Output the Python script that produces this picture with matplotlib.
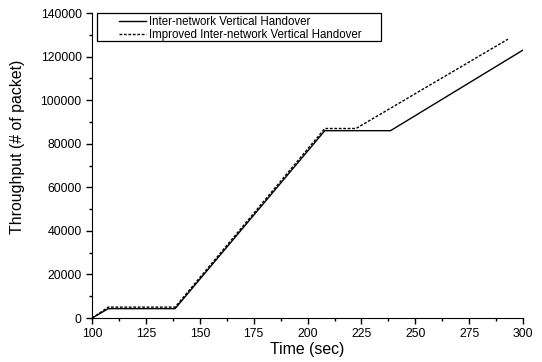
import numpy as np
import matplotlib.pyplot as plt
from matplotlib.ticker import MultipleLocator
from matplotlib.patches import Rectangle

plt.rcParams['font.family'] = ['Liberation Sans', 'DejaVu Sans']

# --- Donnees ---
t_base = [100, 107.5, 138.5, 208, 238.5, 300]
thr_base = [0, 4300, 4300, 86000, 86000, 123000]

t_impr = [100, 107.5, 138.5, 208, 222.5, 293]
thr_impr = [0, 5000, 5000, 87000, 87000, 128000]

labels = ['Inter-network Vertical Handover',
          'Improved Inter-network Vertical Handover']

fig = plt.figure(figsize=(5.42, 3.62), dpi=100)
ax = fig.add_axes([0.170, 0.1215, 0.795, 0.8425])

ax.plot(t_base, thr_base, color='black', lw=1.0, label=labels[0])
ax.plot(t_impr, thr_impr, color='black', lw=1.0, ls=(0, (2, 1.2)), label=labels[1])

ax.set_xlim(100, 300)
ax.set_ylim(0, 140000)
ax.xaxis.set_major_locator(MultipleLocator(25))
ax.xaxis.set_minor_locator(MultipleLocator(12.5))
ax.yaxis.set_major_locator(MultipleLocator(20000))
ax.yaxis.set_minor_locator(MultipleLocator(10000))

for s in ['top', 'right']:
    ax.spines[s].set_visible(False)
ax.tick_params(which='major', direction='out', length=4, width=1, labelsize=8.8)
ax.tick_params(which='minor', direction='out', length=2.5, width=1)

ax.set_xlabel('Time (sec)', fontsize=11.4, labelpad=1)
ax.set_ylabel('Throughput (# of packet)', fontsize=11.4)
ax.yaxis.set_label_coords(-0.155, 0.56)

# legende sans cadre + cadre dessine a part (plus large, comme l'original)
leg = fig.legend(loc='upper left', bbox_to_anchor=(119 / 542, 1 - 16 / 362),
                 fontsize=8.3, frameon=False, borderpad=0, labelspacing=0.05,
                 handlelength=2.3, handletextpad=0.3, borderaxespad=0)
fig.add_artist(Rectangle((97 / 542, 1 - 41 / 362), 284 / 542, 28 / 362,
                         transform=fig.transFigure, fill=False, lw=0.9,
                         edgecolor='black'))

fig.savefig('out.png', dpi=100)
